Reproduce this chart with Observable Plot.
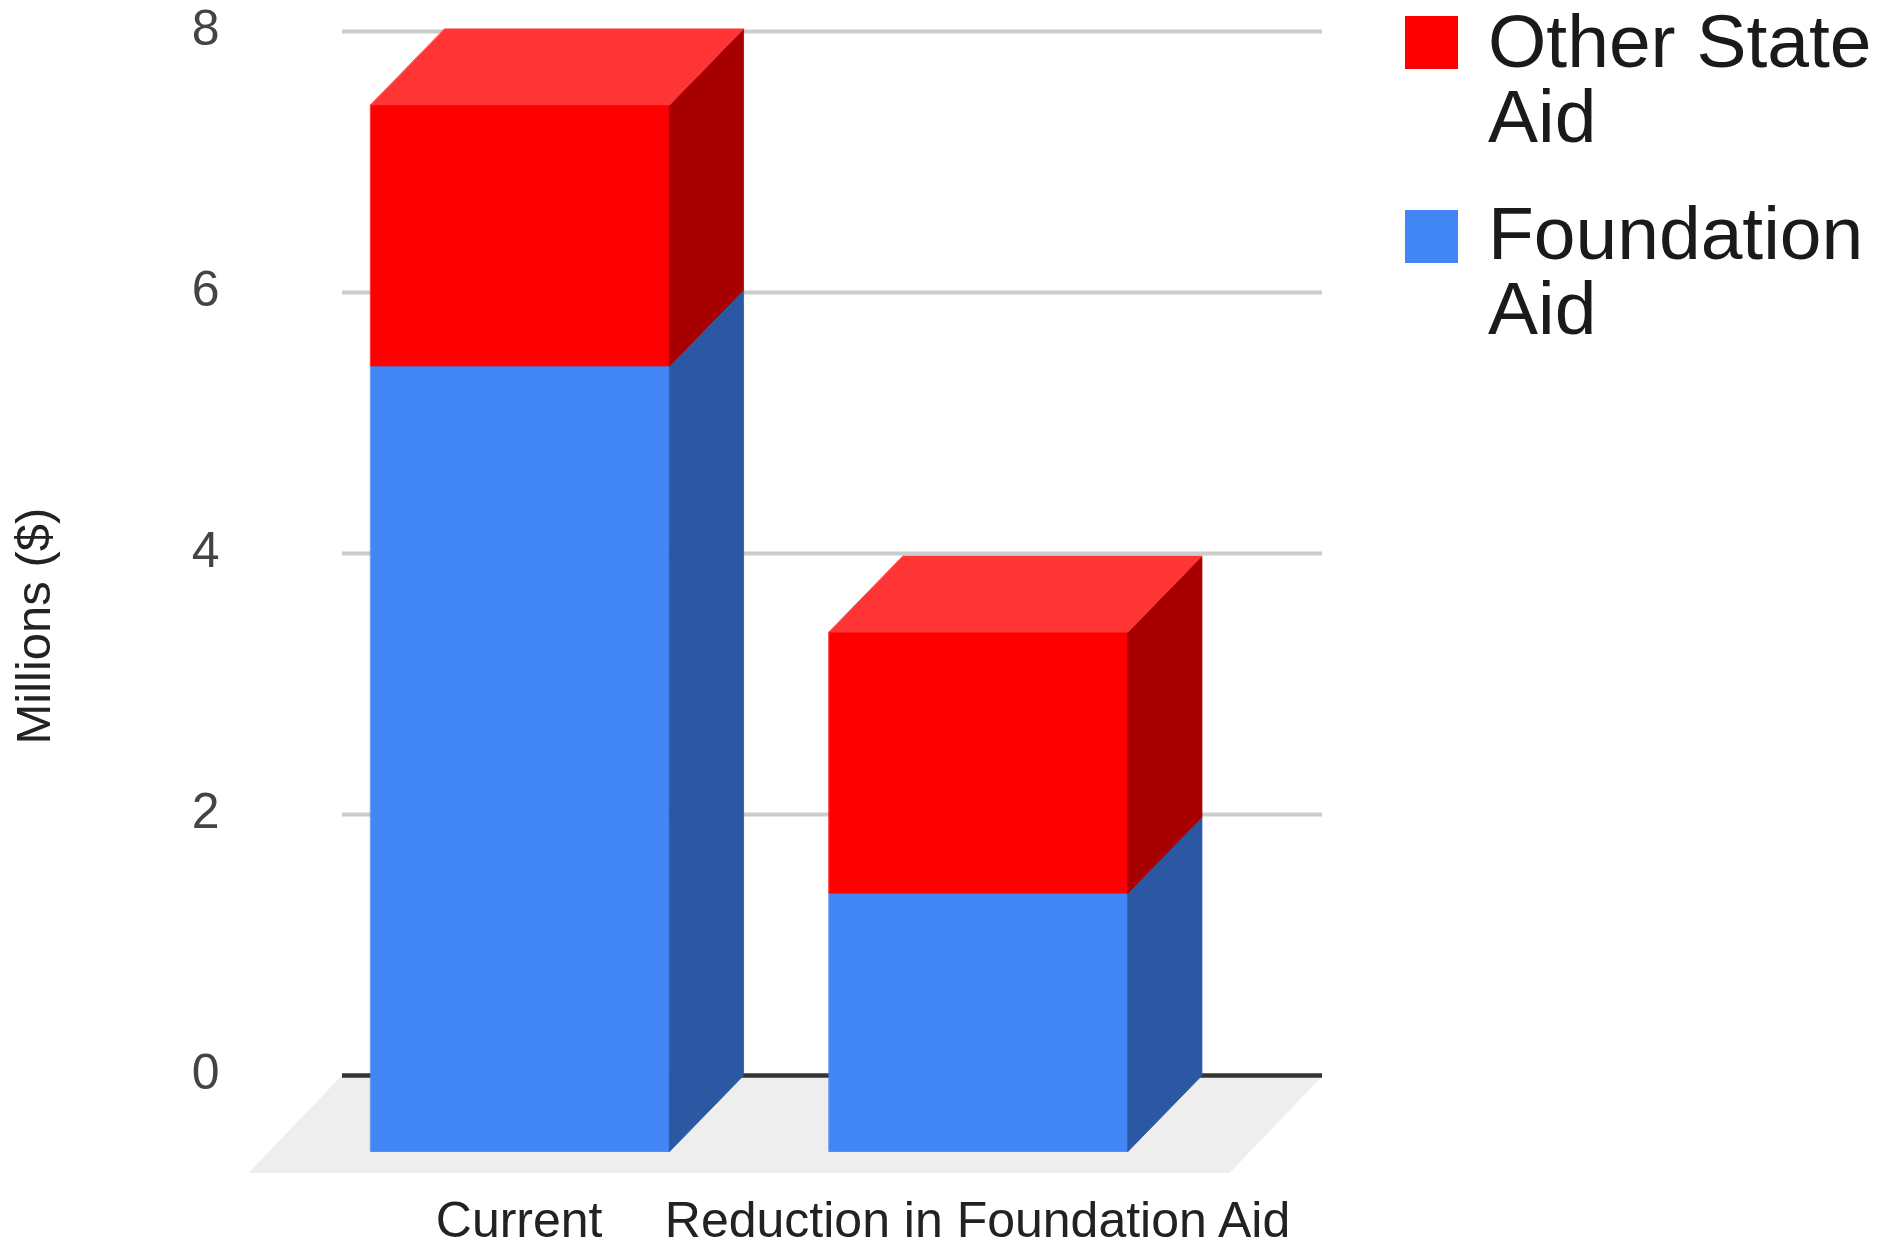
<!DOCTYPE html>
<html>
<head>
<meta charset="utf-8">
<script src="https://cdn.jsdelivr.net/npm/d3@7"></script>
<script src="https://cdn.jsdelivr.net/npm/@observablehq/plot@0.6"></script>
<style>
  body { margin: 0; background: #ffffff; }
  #wrap { position: relative; width: 1896px; height: 1246px; font-family: "Liberation Sans", Arial, sans-serif; }
  #chart { position: absolute; left: 0; top: 0; }
  .sw { position: absolute; left: 1405px; width: 53px; height: 53px; }
  .lt { position: absolute; left: 1488px; width: 400px; font-size: 75px; line-height: 75px; color: #1a1a1a; }
</style>
</head>
<body>
<div id="wrap"><div id="chart"></div><div id="legend"></div></div>
<script>
// ---- data ----
const categories = ["Current", "Reduction in Foundation Aid"];
const seriesNames = ["Foundation Aid", "Other State Aid"];
const foundationAid = [6.02, 1.98];
const otherStateAid = [2.0, 2.0];
const yTicks = [0, 2, 4, 6, 8];
const yLabel = "Millions ($)";

// ---- styles ----
const colors = {
  "Foundation Aid": { front: "#4285f4", side: "#2b57a3", top: "#6a9ff7" },
  "Other State Aid": { front: "#ff0000", side: "#a60000", top: "#ff3535" }
};

// ---- layout ----
const W = 1400, H = 1246;
const mL = 342, mR = 78, mT = 31, mB = 171;
const xDomain = [-0.549, 1.589];
const yDomain = [0, 8];
const pxX = (W - mL - mR) / (xDomain[1] - xDomain[0]);
const pxY = (H - mT - mB) / (yDomain[1] - yDomain[0]);
const barHalf = 0.326;
const bx = 74 / pxX, by = 76 / pxY;   // bar depth in data units
const fx = 93 / pxX, fy = 97 / pxY;   // floor depth in data units

let pid = 0;
function poly(list, pts, color) {
  const id = pid++;
  pts.forEach(([x, y]) => list.push({ id, x, y, color }));
}

const floorPolys = [];
poly(floorPolys, [[xDomain[0], 0], [xDomain[1], 0], [xDomain[1] - fx, -fy], [xDomain[0] - fx, -fy]], "#eeeeee");

const barPolys = [];
categories.forEach((c, i) => {
  const segs = [
    [0, foundationAid[i], seriesNames[0]],
    [foundationAid[i], foundationAid[i] + otherStateAid[i], seriesNames[1]]
  ];
  const L = i - barHalf, R = i + barHalf;
  segs.forEach(([lo, hi, s]) => {
    const col = colors[s];
    poly(barPolys, [[L - bx, lo - by], [R - bx, lo - by], [R - bx, hi - by], [L - bx, hi - by]], col.front);
    poly(barPolys, [[R - bx, lo - by], [R, lo], [R, hi], [R - bx, hi - by]], col.side);
  });
  const [lo, hi, s] = segs[segs.length - 1];
  poly(barPolys, [[L - bx, hi - by], [R - bx, hi - by], [R, hi], [L, hi]], colors[s].top);
});

const polyOpts = { x: "x", y: "y", z: "id", fill: "color", stroke: "color", strokeWidth: 0.8, curve: "linear-closed" };

const chart = Plot.plot({
  width: W,
  height: H,
  marginLeft: mL,
  marginRight: mR,
  marginTop: mT,
  marginBottom: mB,
  style: { fontFamily: "'Liberation Sans', Arial, sans-serif", fontSize: "50px", color: "#222222", background: "#ffffff", overflow: "visible" },
  x: { type: "linear", domain: xDomain },
  y: { type: "linear", domain: yDomain },
  color: { type: "identity" },
  marks: [
    Plot.line(floorPolys, polyOpts),
    Plot.ruleY(yTicks.filter(t => t !== 0), { stroke: "#cccccc", strokeWidth: 4 }),
    Plot.ruleY([0], { stroke: "#333333", strokeWidth: 4.5 }),
    Plot.line(barPolys, polyOpts),
    Plot.axisY({ ticks: yTicks, tickSize: 0, tickPadding: 123, fontSize: 50, color: "#444444", dy: -3, label: null }),
    Plot.axisX({ ticks: categories.map((c, i) => i), tickFormat: i => categories[i], tickSize: 0, tickPadding: 126, dx: -75, fontSize: 50, color: "#222222", label: null }),
    Plot.text([yLabel], { frameAnchor: "left", rotate: -90, dx: -308, dy: 191, fontSize: 49, fill: "#222222" })
  ]
});
document.getElementById("chart").appendChild(chart);

// ---- legend (HTML) ----
const legend = document.getElementById("legend");
const legendOrder = [seriesNames[1], seriesNames[0]];
legendOrder.forEach((s, k) => {
  const sw = document.createElement("div");
  sw.className = "sw";
  sw.style.top = (16 + k * 194) + "px";
  sw.style.background = colors[s].front;
  legend.appendChild(sw);
  const t = document.createElement("div");
  t.className = "lt";
  t.style.top = (3.5 + k * 192) + "px";
  t.textContent = s;
  legend.appendChild(t);
});
</script>
</body>
</html>
